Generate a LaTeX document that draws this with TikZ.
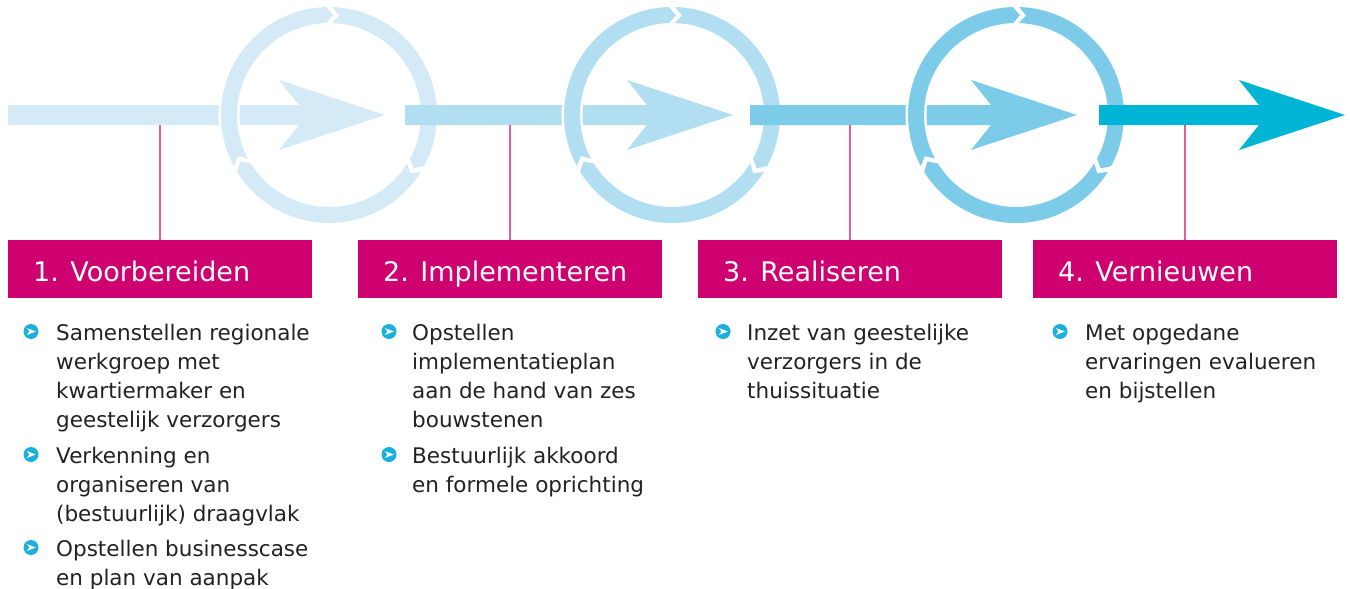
\documentclass[tikz,border=0pt]{standalone}
\usepackage{fontspec}
\setmainfont{DejaVu Sans}
\definecolor{cA}{HTML}{D4EAF7}
\definecolor{cB}{HTML}{B1DFF1}
\definecolor{cC}{HTML}{7CCBE9}
\definecolor{cD}{HTML}{00B4D5}
\definecolor{pinkbox}{HTML}{CF006F}
\definecolor{pinkline}{HTML}{E0609F}
\definecolor{bulc}{HTML}{1AB0DC}
\definecolor{txt}{HTML}{222222}
\tikzset{
  box/.style={fill=pinkbox, draw=none, minimum width=304pt, minimum height=58pt, anchor=north west, inner sep=0pt},
  title/.style={text=white, anchor=base west, inner sep=0pt, font=\fontsize{27}{32}\selectfont},
  item/.style={text=txt, anchor=base west, inner sep=0pt, font=\fontsize{21.5}{29}\selectfont},
  bullet/.style={circle, fill=bulc, minimum size=15pt, inner sep=0pt,
    path picture={\fill[white] ([xshift=-4.2pt,yshift=-3.5pt]path picture bounding box.center) -- ([xshift=4.8pt]path picture bounding box.center) -- ([xshift=-4.2pt,yshift=3.5pt]path picture bounding box.center) -- ([xshift=-1.6pt]path picture bounding box.center) -- cycle;}},
  conn/.style={draw=pinkline, line width=2pt},
  halo/.style={draw=white, line width=5pt, line join=round},
}
% segment of ring: #1 start angle, #2 end angle (clockwise, #2<#1)
\newcommand\ringseg[2]{%
  plot[domain=#1:#2, samples=60, variable=\t] (\t:108pt)
  -- ({#2-4}:100pt) -- (#2:92pt)
  -- plot[domain=#2:#1, samples=60, variable=\t] (\t:92pt)
  -- ({#1-4}:100pt) -- cycle}
\newcommand\ringall[1]{%
  \path[halo] \ringseg{88.25}{-28.25};
  \path[halo] \ringseg{-31.75}{-148.25};
  \path[halo] \ringseg{-151.75}{-268.25};
  \fill[#1] \ringseg{88.25}{-28.25};
  \fill[#1] \ringseg{-31.75}{-148.25};
  \fill[#1] \ringseg{-151.75}{-268.25};}
% arrow bar from x0 to tip T
\newcommand\barrow[3]{%
  \fill[#3] (#1,105) -- ({#2-86},105) -- ({#2-106},80) -- (#2,115) -- ({#2-106},150) -- ({#2-86},125) -- (#1,125) -- cycle;}
\begin{document}
\begin{tikzpicture}[x=1pt,y=-1pt]
\useasboundingbox (0,0) rectangle (1350,589);
% arrows and rings
\barrow{8}{385}{cA}
\begin{scope}[shift={(329,115)}]\ringall{cA}\end{scope}
\barrow{405}{733}{cB}
\begin{scope}[shift={(672,115)}]\ringall{cB}\end{scope}
\barrow{750}{1077}{cC}
\begin{scope}[shift={(1016,115)}]\ringall{cC}\end{scope}
\barrow{1099}{1345}{cD}

% boxes
\node[box] (b1) at (8,240) {};
\node[box] (b2) at (358,240) {};
\node[box] (b3) at (698,240) {};
\node[box] (b4) at (1033,240) {};
\node[title] (t1) at (33,281) {1. Voorbereiden};
\node[title] (t2) at (383,281) {2. Implementeren};
\node[title] (t3) at (723,281) {3. Realiseren};
\node[title] (t4) at (1058,281) {4. Vernieuwen};

% connectors
\coordinate (l1) at (160,125);
\coordinate (l2) at (510,125);
\coordinate (l3) at (850,125);
\coordinate (l4) at (1185,125);
\draw[conn] (l1) -- (l1 |- b1.north);
\draw[conn] (l2) -- (l2 |- b2.north);
\draw[conn] (l3) -- (l3 |- b3.north);
\draw[conn] (l4) -- (l4 |- b4.north);

% column 1
\node[bullet] (p11) at (31,331.5) {};
\node[item] (i11) at (56,340) {\begin{tabular}[t]{@{}l@{}}Samenstellen regionale\\werkgroep met\\kwartiermaker en\\geestelijk verzorgers\end{tabular}};
\node[bullet] (p12) at (31,454.5) {};
\node[item] (i12) at (56,463) {\begin{tabular}[t]{@{}l@{}}Verkenning en\\organiseren van\\(bestuurlijk) draagvlak\end{tabular}};
\node[bullet] (p13) at (31,547.5) {};
\node[item] (i13) at (56,556) {\begin{tabular}[t]{@{}l@{}}Opstellen businesscase\\en plan van aanpak\end{tabular}};
% column 2
\node[bullet] (p21) at (389,331.5) {};
\node[item] (i21) at (412,340) {\begin{tabular}[t]{@{}l@{}}Opstellen\\implementatieplan\\aan de hand van zes\\bouwstenen\end{tabular}};
\node[bullet] (p22) at (389,454.5) {};
\node[item] (i22) at (412,463) {\begin{tabular}[t]{@{}l@{}}Bestuurlijk akkoord\\en formele oprichting\end{tabular}};
% column 3
\node[bullet] (p31) at (723,331.5) {};
\node[item] (i31) at (747,340) {\begin{tabular}[t]{@{}l@{}}Inzet van geestelijke\\verzorgers in de\\thuissituatie\end{tabular}};
% column 4
\node[bullet] (p41) at (1060,331.5) {};
\node[item] (i41) at (1085,340) {\begin{tabular}[t]{@{}l@{}}Met opgedane\\ervaringen evalueren\\en bijstellen\end{tabular}};
\end{tikzpicture}
\end{document}
